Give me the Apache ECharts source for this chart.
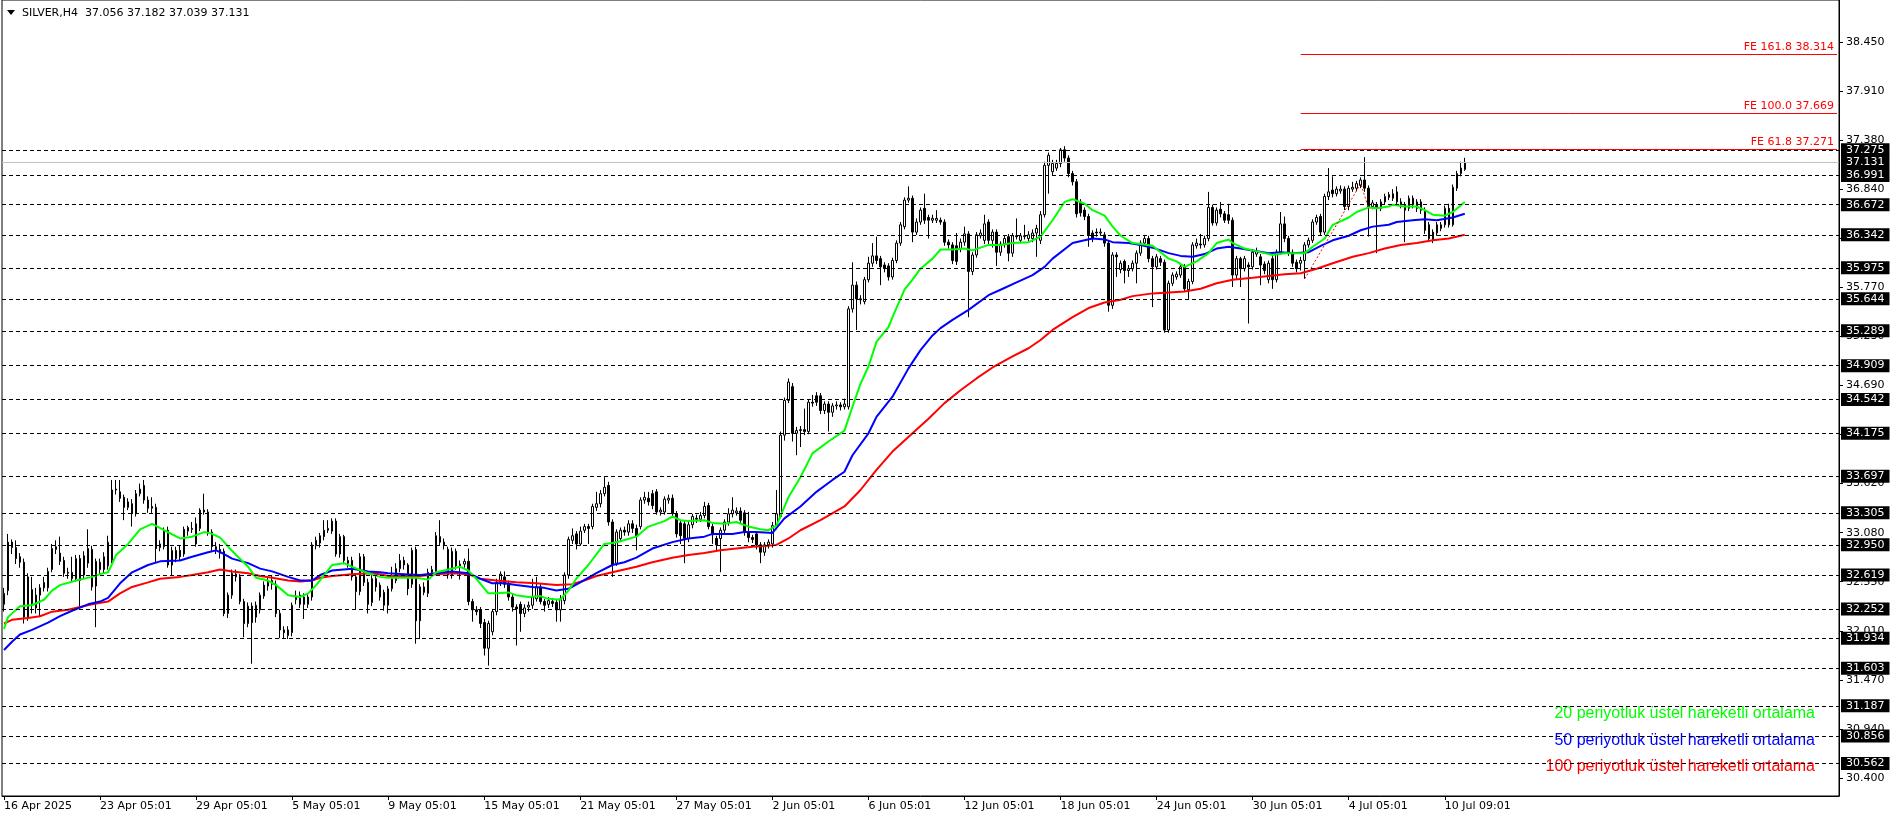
<!DOCTYPE html>
<html><head><meta charset="utf-8">
<script src="https://cdn.jsdelivr.net/npm/echarts@6/dist/echarts.min.js"></script>
<style>html,body{margin:0;padding:0;background:#fff}#c{width:1896px;height:820px}</style>
</head><body><div id="c"></div>
<script>
// ---- H4 candles (index 0 = 16 Apr 2025) ----
const opens = [
32.30,32.45,32.98,32.92,32.82,32.76,32.16,32.46,32.40,32.40,
32.48,32.48,32.68,32.90,32.86,32.78,32.65,32.58,32.58,32.80,
32.83,32.75,32.90,32.50,32.76,32.68,32.72,32.78,33.55,33.53,
33.47,33.36,33.40,33.29,33.51,33.60,33.44,33.35,33.36,32.92,
32.93,33.11,32.73,32.80,32.89,32.85,33.10,33.13,33.18,33.13,
33.33,33.31,33.09,32.93,32.90,32.88,32.20,32.40,32.63,32.60,
32.33,32.09,32.28,32.16,32.24,32.39,32.50,32.56,32.52,32.20,
32.02,32.02,31.99,32.35,32.40,32.38,32.30,32.38,32.94,32.97,
33.04,33.11,33.10,33.21,32.85,33.04,32.78,32.78,32.60,32.44,
32.82,32.54,32.32,32.58,32.51,32.43,32.29,32.47,32.56,32.69,
32.78,32.73,32.52,32.90,32.12,32.43,32.42,32.65,32.66,33.04,
32.98,32.90,32.62,32.88,32.72,32.74,32.77,32.33,32.24,32.24,
32.10,31.82,32.00,32.22,32.54,32.60,32.52,32.38,32.27,32.30,
32.20,32.27,32.29,32.36,32.49,32.33,32.30,32.33,32.32,32.24,
32.34,32.62,33.00,33.07,32.96,33.11,33.15,33.15,33.36,33.40,
33.51,33.60,33.20,32.75,33.02,33.11,33.09,33.18,33.13,33.15,
33.44,33.46,33.51,33.53,33.31,33.31,33.44,33.46,33.29,33.19,
33.18,33.02,33.17,33.24,33.23,33.27,33.38,33.15,33.02,33.02,
33.11,33.20,33.29,33.30,33.32,33.30,33.09,33.03,33.07,32.95,
32.87,32.95,32.96,33.15,33.26,34.15,34.53,34.68,34.17,34.20,
34.21,34.19,34.51,34.58,34.58,34.42,34.49,34.40,34.47,34.48,
34.46,34.46,35.53,35.79,35.64,35.61,35.85,36.03,36.11,36.08,
36.01,36.00,35.88,36.06,36.25,36.43,36.72,36.74,36.37,36.48,
36.63,36.53,36.50,36.50,36.50,36.48,36.26,36.23,36.22,36.19,
36.26,36.35,35.94,36.12,36.33,36.28,36.48,36.28,36.37,36.15,
36.24,36.32,36.14,36.33,36.28,36.32,36.30,36.30,36.36,36.28,
36.56,37.10,37.03,37.07,37.12,37.27,37.18,37.01,36.92,36.70,
36.61,36.54,36.36,36.37,36.36,36.34,36.25,35.57,36.12,35.96,
36.05,35.95,35.97,36.03,36.14,36.25,36.30,36.08,35.99,36.08,
36.04,35.30,35.81,35.88,35.90,35.99,35.74,35.83,36.22,36.24,
36.23,36.30,36.64,36.47,36.62,36.57,36.56,36.50,35.90,36.08,
35.97,36.01,35.99,36.13,36.10,36.02,35.85,36.08,35.85,36.15,
36.46,36.30,36.15,36.04,36.03,36.06,36.23,36.28,36.48,36.54,
36.37,36.76,36.83,36.79,36.82,36.84,36.65,36.84,36.85,36.88,
36.94,36.85,36.65,36.66,36.63,36.70,36.75,36.74,36.70,36.70,
36.67,36.63,36.74,36.70,36.70,36.61,36.45,36.28,36.36,36.41,
36.45,36.63,36.45,36.85,37.01,37.056];
const highs = [
32.48,33.07,33.01,33.00,32.86,32.80,32.64,32.60,32.48,32.52,
32.60,32.70,32.96,33.00,33.04,32.82,32.70,32.82,32.84,32.84,
32.88,33.12,32.94,32.80,32.80,32.87,33.05,33.66,33.66,33.66,
33.50,33.46,33.45,33.55,33.62,33.66,33.48,33.47,33.40,33.00,
33.14,33.15,32.93,32.93,32.94,33.15,33.16,33.20,33.25,33.35,
33.51,33.34,33.12,32.98,32.96,32.91,32.43,32.68,32.68,32.63,
32.36,32.32,32.32,32.33,32.43,32.55,32.60,32.62,32.56,32.24,
32.06,32.06,32.32,32.45,32.44,32.42,32.42,32.98,33.04,33.08,
33.22,33.22,33.24,33.24,33.07,33.06,32.82,32.82,32.64,32.86,
32.85,32.58,32.62,32.64,32.54,32.46,32.50,32.71,32.75,32.85,
32.82,32.75,32.92,32.93,32.52,32.54,32.69,32.72,33.09,33.22,
33.02,32.93,32.92,32.91,32.78,32.80,32.91,32.36,32.28,32.27,
32.14,32.12,32.25,32.58,32.66,32.66,32.56,32.42,32.30,32.33,
32.30,32.33,32.58,32.60,32.52,32.36,32.38,32.37,32.35,32.40,
32.65,33.04,33.13,33.10,33.15,33.18,33.18,33.40,33.53,33.55,
33.69,33.64,33.23,33.12,33.14,33.15,33.22,33.22,33.17,33.47,
33.53,33.53,33.55,33.56,33.36,33.48,33.50,33.50,33.32,33.22,
33.21,33.20,33.29,33.28,33.31,33.42,33.41,33.18,33.05,33.14,
33.23,33.35,33.47,33.36,33.36,33.33,33.31,33.06,33.10,32.98,
32.98,33.01,33.20,33.55,34.19,34.56,34.77,34.72,34.24,34.25,
34.44,34.54,34.59,34.62,34.61,34.52,34.52,34.50,34.52,34.51,
34.55,35.56,36.04,35.83,35.68,35.88,36.10,36.25,36.32,36.11,
36.04,36.03,36.09,36.28,36.48,36.75,36.87,36.77,36.52,36.64,
36.79,36.56,36.56,36.61,36.53,36.51,36.29,36.26,36.36,36.30,
36.43,36.38,36.15,36.37,36.40,36.56,36.51,36.40,36.40,36.27,
36.33,36.35,36.36,36.52,36.36,36.45,36.38,36.40,36.45,36.60,
37.14,37.24,37.16,37.16,37.29,37.31,37.21,37.04,36.95,36.73,
36.64,36.57,36.39,36.41,36.41,36.37,36.28,36.15,36.15,36.06,
36.07,36.01,36.06,36.17,36.28,36.34,36.33,36.11,36.13,36.11,
36.07,35.84,35.93,35.94,36.02,36.02,35.86,36.26,36.30,36.35,
36.33,36.81,36.67,36.64,36.70,36.60,36.68,36.53,36.11,36.10,
36.11,36.04,36.18,36.20,36.13,36.05,36.06,36.11,36.18,36.59,
36.54,36.33,36.18,36.07,36.10,36.26,36.31,36.51,36.56,36.57,
36.79,37.07,36.98,36.87,36.88,36.87,36.88,36.92,36.93,36.97,
37.19,36.88,36.72,36.70,36.73,36.79,36.81,36.84,36.87,36.74,
36.70,36.77,36.77,36.73,36.73,36.64,36.48,36.40,36.48,36.48,
36.66,36.68,36.89,37.04,37.14,37.182];
const lows = [
32.22,32.40,32.85,32.74,32.70,32.09,32.12,32.20,32.20,32.16,
32.44,32.44,32.65,32.85,32.73,32.60,32.58,32.55,32.55,32.27,
32.58,32.70,32.45,32.05,32.62,32.64,32.68,32.75,33.50,33.42,
33.22,33.33,33.15,33.26,33.48,33.40,33.30,33.30,32.76,32.88,
32.90,32.70,32.61,32.76,32.78,32.82,33.05,33.08,32.93,33.10,
33.28,33.05,32.88,32.85,32.80,32.17,32.15,32.36,32.55,32.30,
31.94,32.05,31.65,32.10,32.20,32.36,32.45,32.46,32.16,31.93,
31.93,31.92,31.95,32.30,32.26,32.14,32.26,32.34,32.90,32.92,
33.00,33.08,33.07,32.82,32.81,32.74,32.70,32.56,32.24,32.40,
32.50,32.20,32.28,32.44,32.34,32.23,32.20,32.44,32.53,32.65,
32.68,32.40,32.48,31.87,31.92,32.40,32.38,32.60,32.62,32.94,
32.90,32.58,32.58,32.68,32.57,32.70,32.29,32.11,32.18,32.04,
31.74,31.63,31.96,32.18,32.50,32.48,32.34,32.22,31.85,32.00,
32.16,32.22,32.25,32.33,32.30,32.22,32.26,32.27,32.11,32.11,
32.30,32.58,32.96,32.90,32.94,33.08,32.96,33.12,33.32,33.36,
33.48,33.16,32.60,32.72,32.98,33.05,33.05,33.08,32.89,33.12,
33.40,33.38,33.34,33.28,33.27,33.28,33.40,33.25,33.03,32.96,
32.75,32.98,33.13,33.19,33.20,33.24,33.12,32.96,32.89,32.65,
33.07,33.16,33.25,33.27,33.18,33.05,32.98,32.97,32.90,32.75,
32.83,32.91,32.92,33.12,33.24,34.09,34.50,34.08,33.93,34.02,
34.15,34.16,34.46,34.47,34.38,34.38,34.19,34.35,34.43,34.42,
34.43,34.43,35.49,35.30,35.58,35.58,35.82,35.99,36.02,35.79,
35.93,35.84,35.85,36.03,36.22,36.40,36.69,36.26,36.34,36.45,
36.46,36.30,36.47,36.47,36.45,36.22,36.19,36.02,36.01,36.15,
36.22,35.44,35.90,36.09,36.30,36.24,36.24,36.20,36.00,36.11,
36.20,36.05,36.10,36.29,36.25,36.29,36.27,36.26,36.10,36.24,
36.53,36.79,36.99,37.04,37.08,37.14,36.97,36.88,36.53,36.54,
36.50,36.21,36.26,36.32,36.33,36.21,35.50,35.53,35.88,35.92,
35.81,35.88,35.94,35.81,36.11,36.22,36.04,35.55,35.96,36.00,
35.27,35.27,35.78,35.85,35.87,35.72,35.64,35.80,36.19,36.19,
36.20,36.27,36.44,36.44,36.53,36.47,36.46,35.77,35.86,35.77,
35.94,35.37,35.96,36.10,35.79,35.91,35.81,35.75,35.82,36.12,
36.26,36.11,35.99,35.93,35.95,35.86,36.20,36.25,36.45,36.33,
36.34,36.72,36.75,36.76,36.79,36.61,36.61,36.81,36.82,36.85,
36.81,36.32,36.62,36.14,36.60,36.67,36.72,36.71,36.67,36.63,
36.26,36.60,36.63,36.59,36.57,36.35,36.26,36.25,36.33,36.38,
36.42,36.42,36.43,36.82,36.98,37.039];
const closes = [
32.42,32.98,32.92,32.80,32.76,32.16,32.60,32.31,32.26,32.48,
32.54,32.66,32.91,32.93,32.77,32.64,32.64,32.65,32.80,32.56,
32.62,32.91,32.49,32.77,32.68,32.82,32.98,33.55,33.56,33.46,
33.36,33.42,33.29,33.51,33.56,33.44,33.35,33.37,32.91,32.96,
33.11,32.73,32.89,32.89,32.82,33.12,33.14,33.12,32.96,33.33,
33.31,33.09,32.93,32.90,32.86,32.20,32.40,32.64,32.60,32.33,
32.09,32.28,32.10,32.29,32.40,32.51,32.54,32.52,32.20,32.02,
31.99,31.96,32.29,32.39,32.30,32.30,32.38,32.95,33.00,33.05,
33.11,33.13,33.21,32.85,33.04,32.78,32.75,32.60,32.44,32.82,
32.54,32.30,32.58,32.49,32.38,32.29,32.47,32.58,32.69,32.78,
32.73,32.47,32.89,32.12,32.49,32.49,32.65,32.68,33.05,32.98,
32.95,32.62,32.88,32.72,32.74,32.77,32.33,32.24,32.22,32.09,
31.82,32.09,32.22,32.54,32.63,32.52,32.38,32.27,32.25,32.20,
32.26,32.29,32.38,32.49,32.33,32.29,32.34,32.31,32.24,32.36,
32.62,33.01,33.05,32.96,33.10,33.15,33.13,33.37,33.40,33.51,
33.58,33.20,32.73,33.09,33.11,33.09,33.18,33.13,33.05,33.44,
33.47,33.42,33.38,33.31,33.33,33.45,33.46,33.29,33.07,33.05,
33.02,33.17,33.26,33.23,33.27,33.37,33.15,33.06,32.95,33.11,
33.20,33.29,33.33,33.32,33.22,33.09,33.03,33.01,32.95,32.87,
32.95,32.98,33.16,33.29,34.15,34.53,34.73,34.17,34.20,34.21,
34.19,34.51,34.50,34.51,34.42,34.49,34.40,34.47,34.48,34.46,
34.49,35.53,35.79,35.64,35.63,35.85,36.03,36.11,36.06,35.99,
35.97,35.88,36.06,36.25,36.45,36.72,36.74,36.37,36.48,36.61,
36.50,36.50,36.52,36.52,36.48,36.26,36.23,36.06,36.05,36.26,
36.35,35.94,36.12,36.34,36.36,36.46,36.28,36.37,36.15,36.24,
36.30,36.14,36.33,36.32,36.33,36.33,36.34,36.36,36.41,36.56,
37.10,37.21,37.12,37.12,37.27,37.18,37.01,36.92,36.57,36.58,
36.54,36.34,36.30,36.36,36.37,36.25,35.57,36.12,36.10,36.03,
35.95,35.97,36.03,36.14,36.25,36.30,36.08,35.99,36.10,36.04,
35.30,35.81,35.90,35.91,35.99,35.75,35.83,36.23,36.25,36.23,
36.30,36.64,36.47,36.61,36.57,36.50,36.50,35.90,36.08,35.97,
36.08,35.99,36.15,36.16,36.01,35.95,36.03,35.85,36.15,36.46,
36.30,36.15,36.03,35.97,36.06,36.23,36.28,36.48,36.53,36.37,
36.76,36.81,36.79,36.84,36.84,36.65,36.85,36.86,36.90,36.94,
36.85,36.65,36.69,36.63,36.70,36.76,36.78,36.79,36.81,36.67,
36.61,36.74,36.67,36.63,36.61,36.39,36.30,36.37,36.45,36.45,
36.63,36.45,36.86,37.01,37.07,37.131];

// ---- moving averages: [bar index, value] ----
const ema20 = [[0,32.03],[1,32.16],[4,32.28],[7,32.29],[10,32.35],[12,32.45],[14,32.51],[18,32.56],[22,32.60],[24,32.63],[26,32.65],[27,32.74],[28,32.84],[31,32.96],[34,33.12],[37,33.18],[40,33.11],[44,33.02],[47,33.04],[50,33.09],[52,33.07],[54,33.03],[56,32.93],[58,32.84],[61,32.71],[63,32.59],[66,32.56],[68,32.51],[71,32.40],[74,32.38],[76,32.42],[78,32.51],[80,32.62],[82,32.73],[85,32.75],[87,32.71],[91,32.64],[94,32.60],[96,32.59],[100,32.59],[103,32.59],[106,32.57],[108,32.65],[111,32.68],[114,32.71],[116,32.67],[118,32.58],[121,32.42],[123,32.42],[126,32.43],[128,32.40],[131,32.38],[134,32.39],[136,32.36],[139,32.35],[141,32.45],[143,32.58],[146,32.73],[150,32.96],[152,32.97],[154,32.99],[158,33.04],[161,33.15],[165,33.21],[167,33.26],[169,33.22],[171,33.21],[175,33.22],[177,33.19],[180,33.18],[183,33.20],[186,33.15],[189,33.12],[191,33.11],[193,33.16],[196,33.47],[199,33.69],[202,33.95],[206,34.08],[210,34.20],[212,34.46],[214,34.71],[216,34.90],[218,35.17],[221,35.33],[222,35.44],[225,35.74],[227,35.85],[229,35.97],[232,36.08],[234,36.18],[237,36.18],[240,36.19],[242,36.17],[246,36.23],[249,36.23],[252,36.25],[256,36.26],[259,36.32],[262,36.50],[265,36.70],[267,36.73],[270,36.68],[272,36.61],[275,36.55],[277,36.43],[279,36.33],[282,36.25],[284,36.24],[287,36.22],[289,36.15],[291,36.08],[293,36.05],[295,35.99],[298,36.05],[301,36.14],[303,36.25],[306,36.29],[307,36.25],[310,36.19],[312,36.17],[315,36.14],[317,36.12],[320,36.14],[322,36.14],[325,36.14],[327,36.21],[330,36.30],[332,36.45],[336,36.53],[338,36.59],[341,36.64],[343,36.63],[346,36.65],[347,36.67],[350,36.65],[353,36.65],[355,36.61],[357,36.56],[360,36.55],[362,36.59],[365,36.70]];
const ema50 = [[0,31.80],[2,31.89],[4,31.97],[7,32.02],[11,32.10],[14,32.17],[17,32.23],[21,32.30],[24,32.33],[26,32.37],[29,32.53],[32,32.65],[36,32.73],[39,32.77],[44,32.78],[47,32.82],[51,32.87],[53,32.89],[55,32.85],[57,32.80],[61,32.75],[64,32.69],[67,32.66],[71,32.60],[74,32.56],[77,32.56],[79,32.62],[82,32.67],[87,32.69],[91,32.66],[94,32.65],[96,32.64],[100,32.63],[104,32.62],[108,32.64],[112,32.66],[116,32.64],[119,32.58],[122,32.53],[125,32.53],[128,32.51],[132,32.49],[135,32.48],[138,32.45],[141,32.47],[144,32.54],[148,32.64],[152,32.73],[155,32.76],[158,32.81],[162,32.91],[167,32.98],[171,33.02],[175,33.04],[177,33.07],[182,33.07],[185,33.09],[188,33.09],[192,33.08],[195,33.24],[199,33.37],[203,33.53],[207,33.66],[210,33.75],[212,33.93],[216,34.17],[218,34.35],[222,34.57],[226,34.88],[229,35.08],[232,35.24],[234,35.32],[237,35.41],[241,35.52],[246,35.68],[249,35.74],[253,35.82],[257,35.90],[260,35.99],[262,36.08],[267,36.25],[270,36.28],[272,36.30],[275,36.29],[277,36.26],[281,36.25],[284,36.23],[287,36.20],[291,36.14],[294,36.11],[297,36.10],[300,36.13],[303,36.19],[306,36.21],[309,36.19],[312,36.17],[316,36.14],[319,36.15],[322,36.14],[326,36.15],[329,36.22],[332,36.28],[336,36.33],[339,36.39],[342,36.43],[346,36.45],[348,36.48],[352,36.50],[355,36.51],[358,36.50],[362,36.53],[365,36.57]];
const ema100 = [[0,32.09],[2,32.13],[6,32.15],[9,32.17],[12,32.22],[16,32.24],[19,32.27],[22,32.30],[26,32.33],[29,32.42],[32,32.49],[36,32.54],[39,32.58],[44,32.60],[47,32.62],[51,32.65],[54,32.68],[57,32.66],[61,32.64],[64,32.61],[67,32.59],[71,32.56],[74,32.55],[77,32.56],[79,32.59],[82,32.61],[87,32.63],[91,32.64],[94,32.63],[96,32.61],[100,32.61],[104,32.61],[108,32.63],[112,32.64],[116,32.63],[119,32.58],[123,32.56],[128,32.54],[133,32.53],[138,32.51],[142,32.52],[145,32.56],[148,32.61],[152,32.65],[155,32.68],[158,32.71],[162,32.76],[167,32.81],[171,32.84],[175,32.86],[179,32.89],[183,32.91],[187,32.93],[191,32.94],[193,32.95],[196,33.02],[199,33.11],[204,33.22],[210,33.37],[214,33.55],[218,33.77],[222,33.97],[227,34.17],[231,34.33],[235,34.50],[239,34.64],[243,34.77],[247,34.89],[252,35.01],[256,35.10],[259,35.19],[262,35.30],[267,35.44],[271,35.54],[275,35.60],[279,35.63],[282,35.67],[287,35.70],[291,35.71],[295,35.72],[299,35.75],[303,35.81],[307,35.85],[312,35.87],[316,35.89],[320,35.91],[324,35.92],[328,35.97],[332,36.03],[337,36.10],[341,36.14],[345,36.19],[349,36.23],[353,36.25],[357,36.28],[361,36.30],[365,36.34]];

// ---- horizontal levels, FE tool, ticks ----
const levels = [37.275,36.991,36.672,36.342,35.975,35.644,35.289,34.909,34.542,34.175,33.697,33.305,32.950,32.619,32.252,31.934,31.603,31.187,30.856,30.562];
const bidPrice = 37.131;
const feLevels = [38.314, 37.669, 37.271];
const feTexts = ['FE 161.8 38.314', 'FE 100.0 37.669', 'FE 61.8 37.271'];
const fePath = [[325,35.86],[339,36.90],[341,36.625]];
const feStartBar = 324;
const yTicks = [30.400,30.937,31.473,32.010,32.547,33.083,33.620,34.157,34.693,35.230,35.767,36.303,36.840,37.377,37.913,38.450];
const yTickText = ['30.400','30.940','31.470','32.010','32.550','33.080','33.620','34.160','34.690','35.230','35.770','36.300','36.840','37.380','37.910','38.450'];
const xTickIdx = [0,24,48,72,96,120,144,168,192,216,240,264,288,312,336,360];
const xTickText = ['16 Apr 2025','23 Apr 05:01','29 Apr 05:01','5 May 05:01','9 May 05:01','15 May 05:01','21 May 05:01','27 May 05:01','2 Jun 05:01','6 Jun 05:01','12 Jun 05:01','18 Jun 05:01','24 Jun 05:01','30 Jun 05:01','4 Jul 05:01','10 Jul 09:01'];
const titleText = 'SILVER,H4  37.056 37.182 37.039 37.131';
const legendTexts = ['20 periyotluk üstel hareketli ortalama','50 periyotluk üstel hareketli ortalama','100 periyotluk üstel hareketli ortalama'];

const nCat = 459;
const cats = []; for (let i = 0; i < nCat; i++) cats.push(String(i));
const tickMap = {}; xTickIdx.forEach((v, k) => { tickMap[v] = xTickText[k]; });
const candles = opens.map((o, i) => [o, closes[i], lows[i], highs[i]]);

const FONT = 'DejaVu Sans';
function boxLabel(v) {
  return { show: true, position: 'end', distance: 2, formatter: v.toFixed(3),
    backgroundColor: '#000', color: '#fff', padding: [1, 5, 0, 5],
    fontFamily: FONT, fontSize: 11, lineHeight: 12 };
}
const levelData = levels.map(v => ({ yAxis: v, lineStyle: { color: '#000', type: [4, 3], width: 1 }, label: boxLabel(v) }));
levelData.push({ yAxis: bidPrice, lineStyle: { color: '#c0c0c0', type: 'solid', width: 1 }, label: boxLabel(bidPrice) });

const feData = feLevels.map((v, k) => [
  { coord: [feStartBar, v], lineStyle: { color: '#ff0000', type: 'solid', width: 1 },
    label: { show: true, position: 'insideEndTop', formatter: feTexts[k], color: '#ff0000', fontFamily: FONT, fontSize: 11, distance: [3, 2] } },
  { coord: [nCat - 1, v] }
]);

const chart = echarts.init(document.getElementById('c'));
const isTick = (i) => tickMap[i] !== undefined;
const graphics = [
  { type: 'polygon', shape: { points: [[7, 10], [15, 10], [11, 15]] }, style: { fill: '#000' } },
  { type: 'text', x: 22, y: 13, style: { text: titleText, font: '11px "DejaVu Sans"', fill: '#000', verticalAlign: 'middle' } },
  { type: 'text', x: 1815, y: 714, style: { text: legendTexts[0], font: '16px "Liberation Sans"', fill: '#00ff00', align: 'right', verticalAlign: 'middle' } },
  { type: 'text', x: 1815, y: 741, style: { text: legendTexts[1], font: '16px "Liberation Sans"', fill: '#0000ff', align: 'right', verticalAlign: 'middle' } },
  { type: 'text', x: 1815, y: 767, style: { text: legendTexts[2], font: '16px "Liberation Sans"', fill: '#ff0000', align: 'right', verticalAlign: 'middle' } }
];
if (opens.length !== 366 || highs.length !== 366 || lows.length !== 366 || closes.length !== 366) {
  graphics.push({ type: 'text', x: 400, y: 100, style: { text: 'LEN ' + opens.length + ' ' + highs.length + ' ' + lows.length + ' ' + closes.length, font: '30px sans-serif', fill: '#f0f' } });
}

chart.setOption({
  animation: false,
  backgroundColor: '#fff',
  grid: { left: 2, right: 57, top: 0, bottom: 24, show: true, borderColor: '#000', borderWidth: 1, containLabel: false, outerBoundsMode: 'none' },
  xAxis: {
    type: 'category', data: cats, boundaryGap: true,
    axisLine: { show: true, lineStyle: { color: '#000', width: 1 } },
    axisTick: { show: true, alignWithLabel: true, interval: (i) => isTick(i), length: 4, lineStyle: { color: '#000' } },
    axisLabel: { show: true, interval: (i) => isTick(i), formatter: (v) => tickMap[Number(v)] || '', align: 'left', margin: 5, color: '#000', fontFamily: FONT, fontSize: 11 },
    splitLine: { show: false }
  },
  yAxis: {
    type: 'value', position: 'right', min: 30.204, max: 38.908, scale: true,
    axisLine: { show: true, lineStyle: { color: '#000', width: 1 } },
    axisTick: { show: true, length: 4, customValues: yTicks, lineStyle: { color: '#000' } },
    axisLabel: { show: true, customValues: yTicks, formatter: (v) => { const k = yTicks.indexOf(v); return k >= 0 ? yTickText[k] : ''; }, margin: 7, color: '#000', fontFamily: FONT, fontSize: 11 },
    splitLine: { show: false }
  },
  graphic: graphics,
  series: [
    { type: 'line', name: 'levels', data: [], z: 1, silent: true,
      markLine: { silent: true, symbol: ['none', 'none'], animation: false, data: levelData } },
    { type: 'candlestick', name: 'SILVER', data: candles, barWidth: 2, z: 2, silent: true,
      itemStyle: { color: '#ffffff', color0: '#000000', borderColor: '#000000', borderColor0: '#000000', borderColorDoji: '#000000', borderWidth: 1 } },
    { type: 'line', name: 'EMA100', data: ema100, symbol: 'none', showSymbol: false, z: 3, silent: true, lineStyle: { color: '#ff0000', width: 2 } },
    { type: 'line', name: 'EMA50', data: ema50, symbol: 'none', showSymbol: false, z: 3, silent: true, lineStyle: { color: '#0000ff', width: 2 } },
    { type: 'line', name: 'EMA20', data: ema20, symbol: 'none', showSymbol: false, z: 3, silent: true, lineStyle: { color: '#00ff00', width: 2 } },
    { type: 'line', name: 'FE', data: fePath, symbol: 'none', showSymbol: false, z: 4, silent: true, lineStyle: { color: '#ff0000', width: 1, type: [2, 2] },
      markLine: { silent: true, symbol: ['none', 'none'], animation: false, data: feData } }
  ]
});
</script>
</body></html>
